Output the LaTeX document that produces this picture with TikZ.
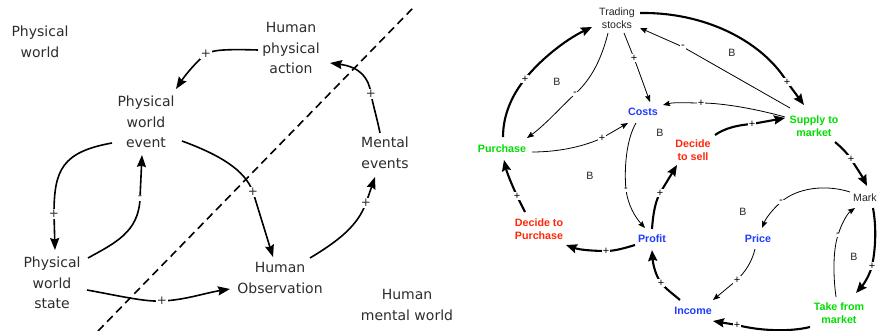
\documentclass[tikz,border=0pt]{standalone}
\usepackage{fontspec}
\setmainfont{Liberation Sans}
\newfontfamily\lefont{DejaVu Sans}
\usetikzlibrary{arrows.meta}
\definecolor{cgreen}{RGB}{0,222,0}
\definecolor{cred}{RGB}{255,40,10}
\definecolor{cblue}{RGB}{30,60,255}
\definecolor{ltext}{RGB}{45,45,45}
\begin{document}
\begin{tikzpicture}[x=1pt,y=-1pt,
  ltxt/.style={font=\lefont\fontsize{14}{20.7}\selectfont, text=ltext, align=center, inner sep=0pt},
  rtxt/.style={font=\fontsize{10.6}{12.8}\selectfont, text=black!85, align=center, inner sep=0pt},
  rbold/.style={font=\fontsize{10.7}{12.8}\selectfont\bfseries, align=center, inner sep=0pt},
  larr/.style={line width=1.6pt, -{Stealth[length=12pt,width=9pt,inset=1.5pt]}},
  thk/.style={line width=2.1pt, -{Stealth[length=11pt,width=9pt,inset=1.5pt]}},
  thn/.style={line width=0.8pt, -{Stealth[length=7pt,width=5.5pt,inset=1pt]}},
  llab/.style={font=\lefont\fontsize{12}{13}\selectfont, fill=white, inner sep=1pt, text=ltext},
  rlab/.style={font=\fontsize{11}{12}\selectfont, fill=white, inner sep=0.8pt},
  dashln/.style={line width=1.6pt, dash pattern=on 8pt off 5pt}
]
\clip (0,0) rectangle (878,331);
\fill[white] (0,0) rectangle (878,331);
% ---------- left diagram ----------
\node[ltxt] (pw) at (40,42) {Physical\\world};
\node[ltxt] (hpa) at (291,48) {Human\\physical\\action};
\node[ltxt] (pwe) at (146,122) {Physical\\world\\event};
\node[ltxt] (me) at (385,153) {Mental\\events};
\node[ltxt] (pws) at (52,283) {Physical\\world\\state};
\node[ltxt] (ho) at (280,278) {Human\\Observation};
\node[ltxt] (hmw) at (407,305) {Human\\mental world};

\draw[larr] ([shift={(-33,2)}]hpa.center) .. controls (225,49) and (212,50) .. (206,54) node[llab]{+} .. controls (198,60) and (186,74) .. ([shift={(30,-33)}]pwe.center);
\draw[larr] ([shift={(-5,-20)}]me.center) .. controls (377,118) and (373,105) .. (371,94) node[llab]{+} .. controls (369,78) and (360,67) .. ([shift={(39,15)}]hpa.center);
\draw[larr] ([shift={(-34,21)}]pwe.center) .. controls (62,152) and (54,170) .. (54,214) node[llab]{+} -- ([shift={(3,-33)}]pws.center);
\draw[larr] ([shift={(36,-25)}]pws.center) .. controls (115,243) and (139,232) .. (140,198) node[llab]{-} -- ([shift={(-4,33)}]pwe.center);
\draw[larr] ([shift={(36,19)}]pwe.center) .. controls (220,155) and (245,170) .. (253,192) node[llab]{+} -- ([shift={(-7,-21)}]ho.center);
\draw[larr] ([shift={(35,7)}]pws.center) .. controls (120,296) and (145,302) .. (162,301) node[llab]{+} .. controls (185,300) and (205,293) .. ([shift={(-50,11)}]ho.center);
\draw[larr] ([shift={(30,-20)}]ho.center) .. controls (340,240) and (358,225) .. (366,203) node[llab]{+} -- ([shift={(-10,24)}]me.center);

\coordinate (d1) at (98,331);
\coordinate (d2) at (413,8);
\draw[dashln] (d1) -- (d2);

% ---------- right diagram ----------
\node[rtxt] (ts) at (617,18) {Trading\\stocks};
\node[rbold,text=cblue] (co) at (643,112) {Costs};
\node[rbold,text=cgreen] (sm) at (814,126) {Supply to\\market};
\node[rbold,text=cgreen] (pu) at (502,149) {Purchase};
\node[rbold,text=cred] (ds) at (693,150) {Decide\\to sell};
\node[rbold,text=cred] (dp) at (539,229) {Decide to\\Purchase};
\node[rbold,text=cblue] (pr) at (652,239) {Profit};
\node[rbold,text=cblue] (pc) at (758,239) {Price};
\node[rtxt] (mk) at (865,198) {Mark};
\node[rbold,text=cblue] (inc) at (693,311) {Income};
\node[rbold,text=cgreen] (tm) at (839,313) {Take from\\market};

\node[rtxt] (b1) at (557,82) {B};
\node[rtxt] (b2) at (732,53) {B};
\node[rtxt] (b3) at (660,133) {B};
\node[rtxt] (b4) at (590,176) {B};
\node[rtxt] (b5) at (743,212) {B};
\node[rtxt] (b6) at (854,257) {B};

\draw[thk] ([shift={(1,-12)}]pu.center) .. controls (503,115) and (512,95) .. (525,79) node[rlab]{+} .. controls (540,60) and (565,40) .. ([shift={(-25,9)}]ts.center);
\draw[thn] ([shift={(-9,15)}]ts.center) .. controls (600,65) and (588,82) .. (575,94) node[rlab]{-} .. controls (560,108) and (545,125) .. ([shift={(25,-11)}]pu.center);
\draw[thn] ([shift={(7,15)}]ts.center) -- (634,58) node[rlab]{+} -- ([shift={(7,-10)}]co.center);
\draw[thk] ([shift={(23,-5)}]ts.center) .. controls (710,12) and (765,45) .. (787,82) node[rlab]{+} -- ([shift={(-10,-21)}]sm.center);
\draw[thn] ([shift={(-24,-18)}]sm.center) -- (683,47) node[rlab]{-} -- ([shift={(23,10)}]ts.center);
\draw[thn] ([shift={(-29,-9)}]sm.center) .. controls (760,110) and (725,103) .. (701,103) node[rlab]{+} .. controls (688,103) and (675,102) .. ([shift={(20,-7)}]co.center);
\draw[thn] ([shift={(30,3)}]pu.center) .. controls (560,152) and (585,146) .. (602,138) node[rlab]{+} -- ([shift={(-15,11)}]co.center);
\draw[thn] ([shift={(-7,11)}]co.center) .. controls (626,140) and (624,170) .. (626,190) node[rlab]{-} .. controls (628,205) and (635,217) .. ([shift={(-7,-11)}]pr.center);
\draw[thk] ([shift={(0,-10)}]pr.center) .. controls (653,215) and (655,202) .. (660,193) node[rlab]{+} -- ([shift={(-16,15)}]ds.center);
\draw[thk] ([shift={(22,-15)}]ds.center) .. controls (725,128) and (738,125) .. (752,124) node[rlab]{+} -- ([shift={(-29,-8)}]sm.center);
\draw[thk] ([shift={(21,16)}]sm.center) .. controls (842,148) and (847,153) .. (851,159) node[rlab]{+} .. controls (856,167) and (862,176) .. ([shift={(2,-12)}]mk.center);
\draw[thn] ([shift={(-15,-6)}]mk.center) .. controls (825,184) and (797,188) .. (781,202) node[rlab]{-} .. controls (772,210) and (766,218) .. ([shift={(4,-11)}]pc.center);
\draw[thn] ([shift={(-3,10)}]pc.center) .. controls (752,262) and (745,272) .. (737,280) node[rlab]{+} -- ([shift={(20,-11)}]inc.center);
\draw[thk] ([shift={(-13,-11)}]inc.center) .. controls (673,294) and (666,289) .. (661,283) node[rlab]{+} .. controls (656,276) and (653,265) .. ([shift={(0,11)}]pr.center);
\draw[thk] ([shift={(-17,6)}]pr.center) .. controls (625,248) and (615,251) .. (606,251) node[rlab]{+} .. controls (595,251) and (580,250) .. ([shift={(27,16)}]dp.center);
\draw[thk] ([shift={(-14,-17)}]dp.center) -- (517,196) node[rlab]{+} .. controls (512,185) and (507,173) .. ([shift={(2,11)}]pu.center);
\draw[thk] ([shift={(8,10)}]mk.center) .. controls (877,230) and (875,252) .. (872,266) node[rlab]{+} .. controls (869,277) and (863,285) .. ([shift={(17,-20)}]tm.center);
\draw[thn] ([shift={(-3,-16)}]tm.center) .. controls (833,275) and (833,250) .. (838,235) node[rlab]{-} .. controls (842,222) and (848,213) .. ([shift={(-10,10)}]mk.center);
\draw[thk] ([shift={(-29,14)}]tm.center) .. controls (790,332) and (760,331) .. (737,325) node[rlab]{+} -- ([shift={(20,10)}]inc.center);
\end{tikzpicture}
\end{document}
